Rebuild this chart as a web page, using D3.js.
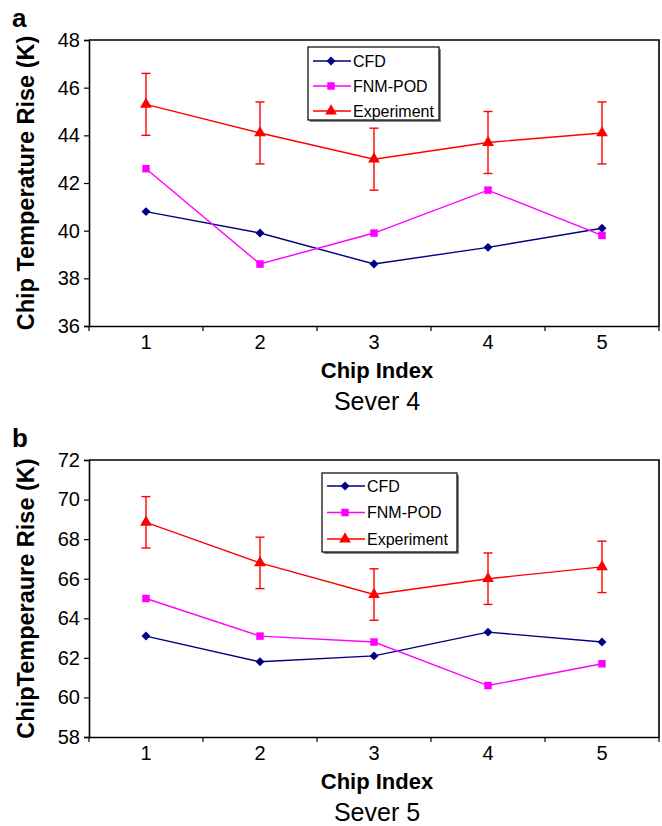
<!DOCTYPE html>
<html>
<head>
<meta charset="utf-8">
<script src="https://cdn.jsdelivr.net/npm/d3@7"></script>
<style>
  html, body { margin: 0; padding: 0; background: #fff; }
  svg { display: block; font-family: "Liberation Sans", Arial, sans-serif; }
</style>
</head>
<body>
<svg id="chart" width="662" height="826"></svg>
<script>
// ---------- data ----------
const categories = [1, 2, 3, 4, 5];
const seriesNames = ["CFD", "FNM-POD", "Experiment"];

const yTicksA = [36, 38, 40, 42, 44, 46, 48];
const cfdA = [40.8, 39.9, 38.6, 39.3, 40.1];
const fnmA = [42.6, 38.6, 39.9, 41.7, 39.8];
const expA = [45.3, 44.1, 43.0, 43.7, 44.1];
const errA = [1.3, 1.3, 1.3, 1.3, 1.3];

const yTicksB = [58, 60, 62, 64, 66, 68, 70, 72];
const cfdB = [63.1, 61.8, 62.1, 63.3, 62.8];
const fnmB = [65.0, 63.1, 62.8, 60.6, 61.7];
const expB = [68.85, 66.8, 65.2, 66.0, 66.6];
const errB = [1.3, 1.3, 1.3, 1.3, 1.3];

// ---------- drawing ----------
const svg = d3.select("#chart");
const colors = { "CFD": "#000080", "FNM-POD": "#FF00FF", "Experiment": "#FF0000" };
const shapes = { "CFD": d3.symbolSquare, "FNM-POD": d3.symbolSquare, "Experiment": d3.symbolTriangle };
const sizes = { "CFD": 40, "FNM-POD": 56, "Experiment": 60 };
const rot = { "CFD": 45, "FNM-POD": 0, "Experiment": 0 };

function drawPanel(p) {
  const g = svg.append("g");
  const x = d3.scaleBand().domain(categories).range([p.left, p.right]).padding(0);
  const y = d3.scaleLinear().domain([p.yTicks[0], p.yTicks[p.yTicks.length - 1]]).range([p.bottom, p.top]);
  const cx = d => x(d) + x.bandwidth() / 2;

  // frame (top and right)
  g.append("path")
    .attr("d", `M${p.left},${p.top}H${p.right}V${p.bottom}`)
    .attr("fill", "none").attr("stroke", "#000").attr("stroke-width", 1.6);

  // y axis
  const ya = d3.axisLeft(y).tickValues(p.yTicks).tickSize(5).tickPadding(4).tickFormat(d3.format("d"));
  const yg = g.append("g").attr("transform", `translate(${p.left},0)`).call(ya);
  yg.select(".domain").attr("stroke-width", 1.6);
  yg.selectAll(".tick line").attr("stroke-width", 1.2);
  yg.selectAll("text").attr("font-size", 20).attr("fill", "#000")
    .attr("font-family", "Liberation Sans, Arial, sans-serif");

  // x axis: labels at centres, ticks at category boundaries
  const xa = d3.axisBottom(x).tickSize(0).tickPadding(9);
  const xg = g.append("g").attr("transform", `translate(0,${p.bottom})`).call(xa);
  xg.select(".domain").attr("stroke-width", 1.6);
  xg.selectAll("text").attr("font-size", 20).attr("fill", "#000")
    .attr("font-family", "Liberation Sans, Arial, sans-serif");
  const bounds = categories.map(c => x(c)).concat([x(categories[categories.length - 1]) + x.bandwidth()]);
  g.selectAll(null).data(bounds).enter().append("line")
    .attr("x1", d => d).attr("x2", d => d)
    .attr("y1", p.bottom).attr("y2", p.bottom + 5)
    .attr("stroke", "#000").attr("stroke-width", 1.2);

  // error bars for Experiment
  const eb = g.append("g").attr("stroke", colors["Experiment"]).attr("stroke-width", 1.4);
  categories.forEach((c, i) => {
    const v = p.exp[i], e = p.err[i];
    eb.append("line").attr("x1", cx(c)).attr("x2", cx(c)).attr("y1", y(v + e)).attr("y2", y(v - e));
    eb.append("line").attr("x1", cx(c) - 4.5).attr("x2", cx(c) + 4.5).attr("y1", y(v + e)).attr("y2", y(v + e));
    eb.append("line").attr("x1", cx(c) - 4.5).attr("x2", cx(c) + 4.5).attr("y1", y(v - e)).attr("y2", y(v - e));
  });

  // series lines and markers
  const series = [["CFD", p.cfd], ["FNM-POD", p.fnm], ["Experiment", p.exp]];
  const line = d3.line().x((d, i) => cx(categories[i])).y(d => y(d));
  series.forEach(([name, vals]) => {
    g.append("path").datum(vals).attr("d", line)
      .attr("fill", "none").attr("stroke", colors[name]).attr("stroke-width", 1.4);
    g.selectAll(null).data(vals).enter().append("path")
      .attr("d", d3.symbol().type(shapes[name]).size(sizes[name]))
      .attr("transform", (d, i) => `translate(${cx(categories[i])},${y(d)}) rotate(${rot[name]})`)
      .attr("fill", colors[name]);
  });

  // legend
  const L = p.legend;
  const lg = g.append("g");
  lg.append("rect").attr("x", L.x + 2).attr("y", L.y + 2).attr("width", L.w).attr("height", L.h)
    .attr("fill", "#888");
  lg.append("rect").attr("x", L.x).attr("y", L.y).attr("width", L.w).attr("height", L.h)
    .attr("fill", "#fff").attr("stroke", "#000").attr("stroke-width", 1.2);
  seriesNames.forEach((name, i) => {
    const ry = L.y + L.row0 + i * L.rowStep;
    lg.append("line").attr("x1", L.x + 5).attr("x2", L.x + 43).attr("y1", ry).attr("y2", ry)
      .attr("stroke", colors[name]).attr("stroke-width", 1.4);
    lg.append("path").attr("d", d3.symbol().type(shapes[name]).size(sizes[name]))
      .attr("transform", `translate(${L.x + 23},${ry}) rotate(${rot[name]})`).attr("fill", colors[name]);
    lg.append("text").attr("x", L.x + 45).attr("y", ry).attr("dy", "0.35em")
      .attr("font-size", 16).attr("fill", "#000").text(name);
  });

  // axis titles
  const midX = (p.left + p.right) / 2 + 3;
  g.append("text").attr("x", midX).attr("y", p.bottom + 52).attr("text-anchor", "middle")
    .attr("font-size", 22).attr("font-weight", "bold").text("Chip Index");
  g.append("text").attr("x", midX).attr("y", p.bottom + 84).attr("text-anchor", "middle")
    .attr("font-size", 25).text(p.subtitle);
  g.append("text")
    .attr("transform", `translate(34,${(p.top + p.bottom) / 2}) rotate(-90)`)
    .attr("text-anchor", "middle").attr("font-size", 23.5).attr("font-weight", "bold")
    .text(p.ylabel);
  g.append("text").attr("x", 12).attr("y", p.top - 13).attr("font-size", 26)
    .attr("font-weight", "bold").text(p.letter);
}

drawPanel({
  left: 89, right: 659, top: 40, bottom: 326,
  yTicks: yTicksA, cfd: cfdA, fnm: fnmA, exp: expA, err: errA,
  legend: { x: 308, y: 47, w: 131, h: 73, row0: 14, rowStep: 25 },
  subtitle: "Sever 4", ylabel: "Chip Temperature Rise (K)", letter: "a"
});
drawPanel({
  left: 89, right: 659, top: 460, bottom: 737,
  yTicks: yTicksB, cfd: cfdB, fnm: fnmB, exp: expB, err: errB,
  legend: { x: 322, y: 473, w: 135, h: 79, row0: 13, rowStep: 26.5 },
  subtitle: "Sever 5", ylabel: "ChipTemperaure Rise (K)", letter: "b"
});
</script>
</body>
</html>
